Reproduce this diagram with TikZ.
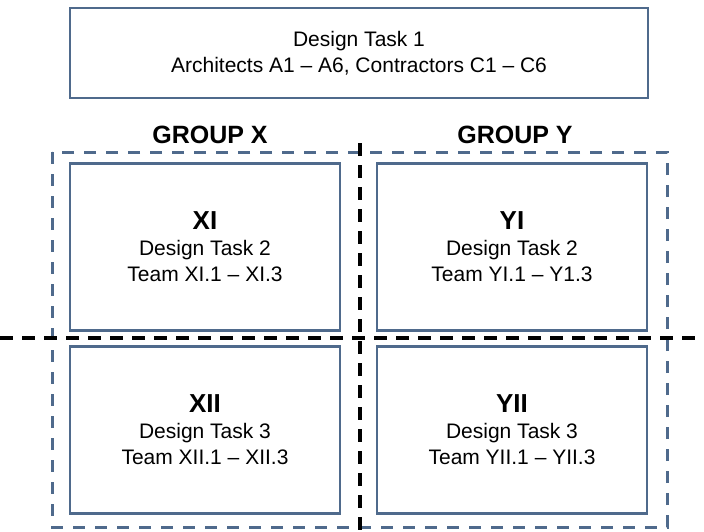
\documentclass[tikz,border=0pt]{standalone}
\usepackage{fontspec}
\setmainfont{Liberation Sans}
\usetikzlibrary{positioning}
\definecolor{boxblue}{RGB}{79,106,140}
\tikzset{
  x=0.5pt, y=-0.5pt, % one unit is one pixel of the layout
  task/.style={draw=boxblue, line width=1.2pt, align=center,
    minimum width=135pt, minimum height=83.5pt,
    font=\fontsize{10.5}{13}\selectfont}, % the design task boxes
  grouplabel/.style={font=\bfseries\fontsize{12.5}{15}\selectfont},
  groupframe/.style={draw=boxblue, line width=1.5pt,
    dash pattern=on 6pt off 5pt}, % frame round the groups
  split/.style={draw=black, line width=1.8pt,
    dash pattern=on 6.5pt off 4.5pt}, % the black dividing lines
}
\newcommand{\tasktitle}[1]{{\bfseries\fontsize{13}{13}\selectfont #1}}

\begin{document}
\begin{tikzpicture}
    \useasboundingbox (0,0) rectangle (704,531);

    \node[task, minimum width=289pt, minimum height=45pt] (task1) at (359,53)
    {Design Task 1\\Architects A1 -- A6, Contractors C1 -- C6};

    \node[grouplabel] (groupX) at (210,135) {GROUP X};
    \node[grouplabel] (groupY) at (515,135) {GROUP Y};

    \node[task] (xi) at (205,247) {\tasktitle{XI}\\Design Task 2\\Team
    XI.1 -- XI.3};
    \node[task] (yi) at (512,247) {\tasktitle{YI}\\Design Task 2\\Team
    YI.1 -- Y1.3};
    \node[task] (xii) at (205,430) {\tasktitle{XII}\\Design Task 3\\Team
    XII.1 -- XII.3};
    \node[task] (yii) at (512,430) {\tasktitle{YII}\\Design Task 3\\Team
    YII.1 -- YII.3};

    % frame and dividing lines
    \coordinate (frameNW) at (52,152);
    \coordinate (frameSE) at (667,527);
    \draw[groupframe] (frameNW) rectangle (frameSE);

    \coordinate (splitN) at (360,143);
    \coordinate (splitS) at (360,531);
    \coordinate (splitW) at (0,338);
    \coordinate (splitE) at (704,338);
    \draw[split] (splitN) -- (splitS);
    \draw[split] (splitW) -- (splitE);
\end{tikzpicture}
\end{document}
